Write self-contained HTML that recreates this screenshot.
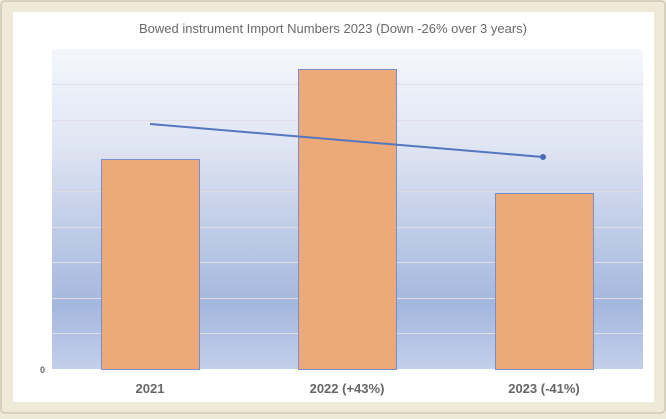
<!DOCTYPE html><html><head><style>body{margin:0;width:666px;height:414px;background:#efead8;overflow:hidden;font-family:"Liberation Sans",sans-serif}</style></head><body>
<svg width="666" height="414" xmlns="http://www.w3.org/2000/svg">
<defs><linearGradient id="g" x1="0" y1="0" x2="0" y2="1">
<stop offset="0" stop-color="#f5f7fc"/><stop offset="0.3" stop-color="#dfe5f3"/><stop offset="0.8" stop-color="#a4b7de"/><stop offset="1" stop-color="#c3cfeb"/></linearGradient></defs>
<rect x="1" y="1" width="664" height="412" fill="#efead8" stroke="#cfc8b4" stroke-width="1.5" rx="4"/>
<rect x="13" y="12" width="641" height="390" fill="#fff"/>
<rect x="52" y="49" width="591" height="320" fill="url(#g)"/>
<g stroke="#e0dde6" stroke-width="1">
<line x1="52" x2="643" y1="84.5" y2="84.5"/><line x1="52" x2="643" y1="120.5" y2="120.5"/><line x1="52" x2="643" y1="155.5" y2="155.5"/><line x1="52" x2="643" y1="191.5" y2="191.5"/><line x1="52" x2="643" y1="227.5" y2="227.5"/><line x1="52" x2="643" y1="262.5" y2="262.5"/><line x1="52" x2="643" y1="298.5" y2="298.5"/><line x1="52" x2="643" y1="333.5" y2="333.5"/></g>
<g fill="#eca97a" stroke="#7a8ec8" stroke-width="1">
<rect x="101.5" y="159.5" width="98" height="210"/><rect x="298.5" y="69.5" width="98" height="300"/><rect x="495.5" y="193.5" width="98" height="176"/></g>
<line x1="150" y1="124" x2="543" y2="157" stroke="#5577c0" stroke-width="2"/><circle cx="543" cy="157" r="3" fill="#4a6cb8"/>
<text x="333" y="33" text-anchor="middle" font-size="13" fill="#6a6a6a">Bowed instrument Import Numbers 2023 (Down -26% over 3 years)</text>
<text x="40" y="373" font-size="9" font-weight="bold" fill="#666">0</text>
<g font-size="13" font-weight="bold" fill="#666" text-anchor="middle"><text x="150" y="393">2021</text><text x="347" y="393">2022 (+43%)</text><text x="544" y="393">2023 (-41%)</text></g>
</svg></body></html>
